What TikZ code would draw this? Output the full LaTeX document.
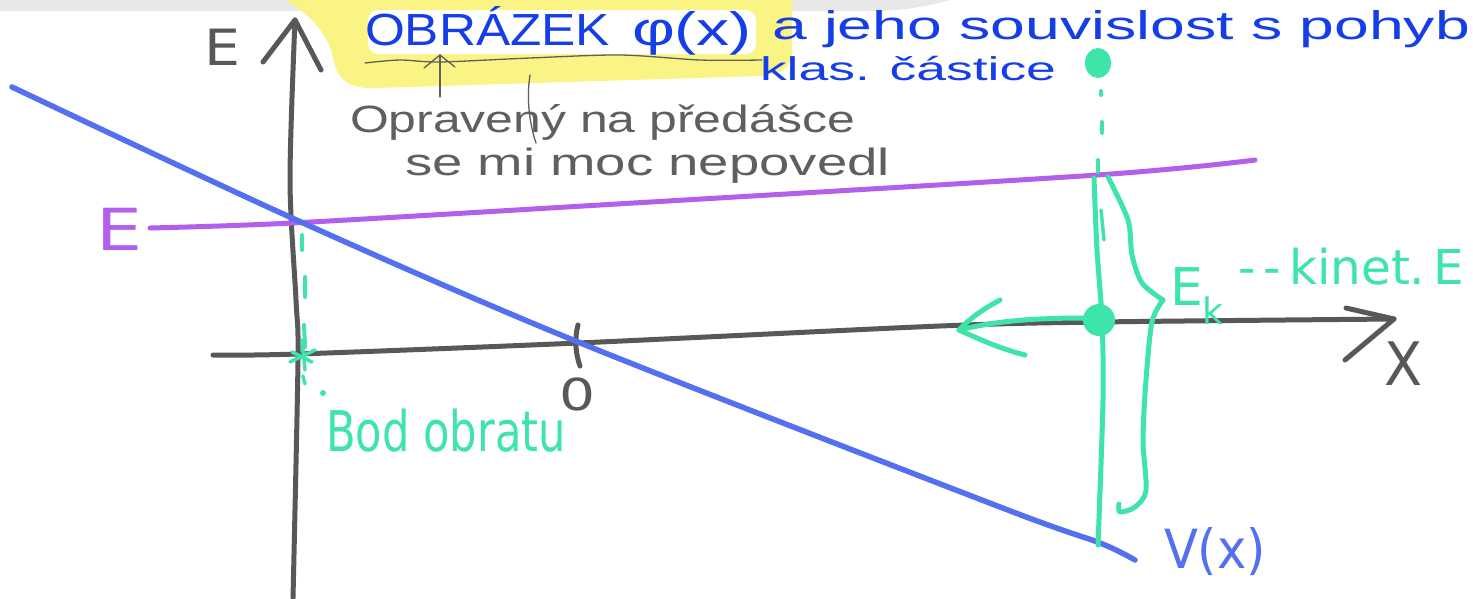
\documentclass[tikz,border=0pt]{standalone}
\usepackage{fontspec}
\setmainfont{DejaVu Sans}
\newfontfamily\penfont{Liberation Sans}
\newcommand{\wfit}[2]{\resizebox{#1}{\height}{#2}}
\definecolor{pen}{RGB}{22,62,232}
\definecolor{vblue}{RGB}{82,112,240}
\definecolor{violet}{RGB}{178,95,235}
\definecolor{mint}{RGB}{62,228,168}
\definecolor{chalk}{RGB}{88,88,88}
\definecolor{pencil}{RGB}{95,95,95}
\definecolor{hlyellow}{RGB}{250,244,132}
\definecolor{topband}{RGB}{232,232,232}
\begin{document}
\begin{tikzpicture}[x=1pt,y=-1pt,
  axisline/.style={draw=chalk, line width=5pt, line cap=round, line join=round},
  potline/.style={draw=vblue, line width=5.5pt, line cap=round, line join=round},
  energyline/.style={draw=violet, line width=5pt, line cap=round},
  mintline/.style={draw=mint, line width=5pt, line cap=round, line join=round},
  thinpen/.style={draw=pencil, line width=1.3pt, line cap=round, line join=round},
  lbl/.style={inner sep=0pt, outer sep=0pt, anchor=base west},
]
\useasboundingbox (0,0) rectangle (1473,598);
\fill[white] (0,0) rectangle (1473,598);
% top band and highlighter
\fill[topband] (0,0) -- (950,0) .. controls (920,8) and (900,11) .. (870,11) -- (0,11) -- cycle;
\fill[hlyellow] (286,0) -- (792,0) -- (792,50) .. controls (792,70) and (780,74) .. (760,76) -- (375,88) .. controls (350,89) and (338,80) .. (334,62) .. controls (330,40) and (318,20) .. (286,0) -- cycle;
\fill[white, rounded corners=10pt] (368,10) -- (756,10) -- (756,54) -- (368,54) -- cycle;

% title
\node[lbl, text=pen, font=\penfont\fontsize{45}{50}\selectfont] (title) at (365,45) {\wfit{245pt}{OBRÁZEK}};
\node[lbl, text=pen, font=\penfont\fontsize{47}{50}\selectfont] (phi) at (632,45) {\wfit{120pt}{φ(x)}};
\node[lbl, text=pen, font=\penfont\fontsize{40}{50}\selectfont] (title2) at (772,39) {\wfit{698pt}{a jeho souvislost s pohyb}};
\node[lbl, text=pen, font=\penfont\fontsize{33}{40}\selectfont] (title3) at (760,80) {\wfit{296pt}{klas. částice}};

% pencil annotation
\coordinate (ulA) at (365,63);
\coordinate (ulB) at (762,60);
\draw[thinpen] plot[smooth] coordinates {(ulA) (400,60) (440,62) (530,58) (620,55) (700,60) (ulB)};
\coordinate (arT) at (440,55);
\coordinate (arB) at (440,97);
\draw[thinpen] (arB) -- (arT);
\draw[thinpen] (424,68) -- (arT) -- (455,67);
\coordinate (stA) at (530,75);
\coordinate (stB) at (536,143);
\draw[thinpen] (stA) .. controls (526,100) and (530,125) .. (stB);
\node[lbl, text=pencil, font=\penfont\fontsize{38}{40}\selectfont] (note1) at (350,132) {\wfit{505pt}{Opravený na předášce}};
\node[lbl, text=pencil, font=\penfont\fontsize{38}{40}\selectfont] (note2) at (405,175) {\wfit{485pt}{se mi moc nepovedl}};

% axes
\coordinate (Ebot) at (293,598);
\coordinate (Etop) at (295,20);
\draw[axisline] plot[smooth] coordinates {(Ebot) (298,360) (296,300) (290,180) (Etop)};
\draw[axisline] (263,62) -- (Etop) -- (321,70);
\node[lbl, text=chalk, font=\fontsize{50}{50}\selectfont] (Elab) at (204,65) {\wfit{36pt}{E}};
\coordinate (Xleft) at (213,355);
\coordinate (Xright) at (1394,319);
\draw[axisline] plot[smooth] coordinates {(Xleft) (298,354) (578,343) (940,326) (1100,322) (Xright)};
\draw[axisline] (1346,308) -- (Xright) -- (1345,360);
\node[lbl, text=chalk, font=\fontsize{60}{60}\selectfont] (Xlab) at (1384,385) {\wfit{38pt}{X}};
\coordinate (tickT) at (578,325);
\coordinate (tickB) at (580,366);
\draw[axisline] (tickT) .. controls (574,340) and (576,355) .. (tickB);
\node[lbl, text=chalk, font=\fontsize{44}{44}\selectfont] (zero) at (559,410) {\wfit{36pt}{0}};

% energy line
\coordinate (Estart) at (150,228);
\coordinate (Eend) at (1255,160);
\draw[energyline] plot[smooth] coordinates {(Estart) (292,223) (600,205) (1097,175) (Eend)};
\node[lbl, text=violet, font=\fontsize{58}{58}\selectfont] (Elab2) at (96,250) {\wfit{46pt}{E}};

% potential
\coordinate (Vstart) at (12,87);
\coordinate (Vend) at (1135,560);
\draw[potline] plot[smooth] coordinates {(Vstart) (292,218) (578,342) (1000,507) (1100,543) (Vend)};
\node[lbl, text=vblue, font=\fontsize{54}{54}\selectfont] (Vlab) at (1164,568) {\wfit{102pt}{V(x)}};

% classical particle (green)
\fill[mint] (1098,63) ellipse (13 and 15);
\coordinate (pTop) at (1094,178);
\coordinate (pBot) at (1098,545);
\draw[mintline, line width=4pt] (1101,91) -- (1101,95);
\draw[mintline, line width=4pt] (1102,122) -- (1102,133);
\draw[mintline, line width=4pt] (1098,160) -- (1098,172);
\draw[mintline] plot[smooth] coordinates {(pTop) (1097,250) (1102,320) (1103,400) (pBot)};
\draw[mintline, line width=3.5pt] (1101,210) -- (1104,240);
\fill[mint] (1099,320) circle (16);
\coordinate (arrTip) at (959,330);
\draw[mintline] (1088,318) .. controls (1040,318) and (1000,320) .. (arrTip);
\draw[mintline] (1000,300) .. controls (985,308) and (970,318) .. (arrTip) .. controls (985,342) and (1005,350) .. (1025,355);
% brace
\draw[mintline] plot[smooth] coordinates {(1108,177) (1128,220) (1132,255) (1142,283) (1163,300)};
\draw[mintline] plot[smooth] coordinates {(1163,300) (1152,322) (1146,380) (1143,440) (1146,490) (1135,507) (1120,512) (1119,504)};
\node[lbl, text=mint, font=\fontsize{52}{52}\selectfont] (Ek) at (1170,305) {E\textsubscript{k}};
\node[lbl, text=mint, font=\fontsize{48}{50}\selectfont] (kin) at (1238,284) {\wfit{226pt}{-\,-\,kinet.\,E}};

% turning point
\draw[mintline, line width=4pt] (302,235) -- (302,250);
\draw[mintline, line width=4pt] (305,277) -- (305,297);
\draw[mintline, line width=4pt] (304,325) -- (305,347);
\draw[mintline, line width=3.5pt] (302,340) -- (305,370);
\draw[mintline, line width=3.5pt] (290,362) -- (315,350);
\draw[mintline, line width=3.5pt] (292,352) -- (312,362);
\draw[mintline, line width=3.5pt] (303,376) -- (305,384);
\fill[mint] (323,393) circle (3);
\node[lbl, text=mint, font=\fontsize{56}{56}\selectfont] (bod) at (326,451) {\wfit{240pt}{Bod obratu}};
\end{tikzpicture}
\end{document}
